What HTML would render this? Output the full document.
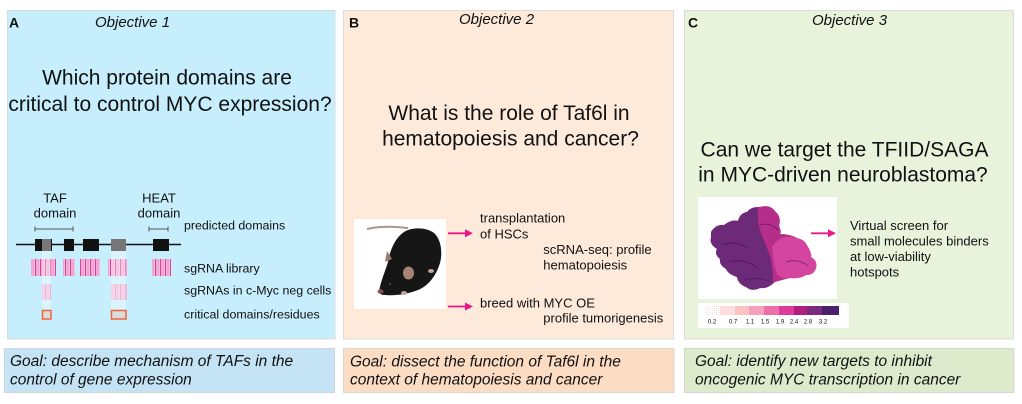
<!DOCTYPE html>
<html><head><meta charset="utf-8"><style>
html,body{margin:0;padding:0;background:#fff;}
svg{display:block;}
text{font-family:"Liberation Sans",Arial,sans-serif;fill:#111;}
.it{font-style:italic;}
</style></head><body>
<svg width="1022" height="404" viewBox="0 0 1022 404" xmlns="http://www.w3.org/2000/svg">
<defs>
<pattern id="sg1" patternUnits="userSpaceOnUse" width="5" height="20" x="0" y="0">
<rect x="0" y="0" width="1.2" height="20" fill="#df3f9c"/>
<rect x="2.5" y="0" width="1.2" height="20" fill="#ee94c8"/>
</pattern>
<pattern id="sg2" patternUnits="userSpaceOnUse" width="5" height="20" x="0" y="0">
<rect x="0" y="0" width="1.2" height="20" fill="#e08dc2"/>
<rect x="2.5" y="0" width="1.2" height="20" fill="#ecb2d6"/>
</pattern>
<pattern id="dots" patternUnits="userSpaceOnUse" width="2" height="2">
<rect x="0" y="0" width="1" height="1" fill="#f8dde0"/>
</pattern>
</defs>

<!-- Panels -->
<rect x="7.5" y="10.5" width="327.5" height="328.5" fill="#c7eefc" stroke="#d9dcdd" stroke-width="1"/>
<rect x="343.5" y="10.5" width="330" height="328.5" fill="#feeadb" stroke="#dddcd9" stroke-width="1"/>
<rect x="684.5" y="10.5" width="329" height="328.5" fill="#e9f3dc" stroke="#dcddd9" stroke-width="1"/>

<!-- Goal boxes -->
<rect x="4.5" y="348.5" width="330" height="44" fill="#c4e4f5" stroke="#cfd6da" stroke-width="1"/>
<rect x="343.5" y="348.5" width="330.5" height="44" fill="#fcdcc2" stroke="#dad5d0" stroke-width="1"/>
<rect x="684.5" y="348.5" width="329.5" height="44" fill="#ddebcc" stroke="#d3d8cf" stroke-width="1"/>

<!-- Headers -->
<text x="9" y="27.3" font-size="14" font-weight="bold">A</text>
<text x="95" y="27" font-size="15" class="it">Objective 1</text>
<text x="349" y="27.3" font-size="14" font-weight="bold">B</text>
<text x="459" y="24" font-size="15" class="it">Objective 2</text>
<text x="688" y="27.3" font-size="14" font-weight="bold">C</text>
<text x="812" y="25" font-size="15" class="it">Objective 3</text>

<!-- Titles -->
<text x="167" y="84.5" font-size="21" text-anchor="middle">Which protein domains are</text>
<text x="170" y="111" font-size="21" text-anchor="middle">critical to control MYC expression?</text>
<text x="509" y="120" font-size="21" text-anchor="middle">What is the role of Taf6l in</text>
<text x="510.5" y="145.5" font-size="21" text-anchor="middle">hematopoiesis and cancer?</text>
<text x="844.5" y="156.7" font-size="21" text-anchor="middle">Can we target the TFIID/SAGA</text>
<text x="843" y="181.7" font-size="21" text-anchor="middle">in MYC-driven neuroblastoma?</text>

<!-- Goals -->
<text x="10" y="366" font-size="15.5" class="it">Goal: describe mechanism of TAFs in the</text>
<text x="10" y="384.5" font-size="15.5" class="it">control of gene expression</text>
<text x="350" y="366.5" font-size="15.5" class="it">Goal: dissect the function of Taf6l in the</text>
<text x="350" y="384.5" font-size="15.5" class="it">context of hematopoiesis and cancer</text>
<text x="695" y="366" font-size="15.5" class="it">Goal: identify new targets to inhibit</text>
<text x="695" y="384.5" font-size="15.5" class="it">oncogenic MYC transcription in cancer</text>

<!-- Panel A diagram -->
<text x="55" y="202.3" font-size="13" text-anchor="middle">TAF</text>
<text x="55" y="217.3" font-size="13" text-anchor="middle">domain</text>
<text x="159" y="202.3" font-size="13" text-anchor="middle">HEAT</text>
<text x="159" y="217.3" font-size="13" text-anchor="middle">domain</text>
<g stroke="#555" stroke-width="1" fill="none">
<line x1="35" y1="229" x2="73" y2="229"/><line x1="35" y1="226.5" x2="35" y2="231.5"/><line x1="73" y1="226.5" x2="73" y2="231.5"/>
<line x1="149" y1="229" x2="168" y2="229"/><line x1="149" y1="226.5" x2="149" y2="231.5"/><line x1="168" y1="226.5" x2="168" y2="231.5"/>
</g>
<text x="184" y="229.3" font-size="12.4">predicted domains</text>
<line x1="16" y1="244.5" x2="181" y2="244.5" stroke="#111" stroke-width="1.4"/>
<rect x="35" y="239" width="17" height="12" fill="#111"/>
<rect x="42" y="239" width="9" height="12" fill="#777"/>
<rect x="64" y="239" width="10" height="12" fill="#111"/>
<rect x="83" y="239" width="16" height="12" fill="#111"/>
<rect x="111" y="239" width="15" height="12" fill="#777"/>
<rect x="153" y="239" width="16" height="12" fill="#111"/>

<g>
<rect x="31" y="259" width="25" height="17" fill="#f3c3e0"/>
<rect x="63" y="259" width="12" height="17" fill="#f3c3e0"/>
<rect x="80" y="259" width="20" height="17" fill="#f3c3e0"/>
<rect x="108" y="259" width="19" height="17" fill="#f3c3e0"/>
<rect x="152" y="259" width="19" height="17" fill="#f3c3e0"/>
<rect x="31" y="259" width="25" height="17" fill="url(#sg1)"/>
<rect x="63" y="259" width="12" height="17" fill="url(#sg1)"/>
<rect x="80" y="259" width="20" height="17" fill="url(#sg1)"/>
<rect x="108" y="259" width="19" height="17" fill="url(#sg1)"/>
<rect x="152" y="259" width="19" height="17" fill="url(#sg1)"/>
<rect x="42" y="284" width="9" height="16" fill="#eec6df"/>
<rect x="111" y="284" width="16" height="16" fill="#eec6df"/>
<rect x="42" y="284" width="9" height="16" fill="url(#sg2)"/>
<rect x="111" y="284" width="16" height="16" fill="url(#sg2)"/>
</g>

<rect x="42" y="251" width="9" height="69" fill="#ffffff" fill-opacity="0.35"/>
<rect x="111" y="251" width="15" height="69" fill="#ffffff" fill-opacity="0.35"/>

<rect x="42.5" y="310.5" width="8.5" height="8.5" fill="#dcdcdc" stroke="#f0643c" stroke-width="1.5"/>
<rect x="111.5" y="310.5" width="14.5" height="8.5" fill="#dcdcdc" stroke="#f0643c" stroke-width="1.5"/>

<text x="184" y="272.3" font-size="12.4">sgRNA library</text>
<text x="184" y="294.3" font-size="12.4">sgRNAs in c-Myc neg cells</text>
<text x="184" y="318.3" font-size="12.4">critical domains/residues</text>

<!-- Panel B mouse -->
<rect x="354" y="219" width="92" height="90" fill="#ffffff"/>
<path d="M367,229 Q385,225 408,228" stroke="#a8968c" stroke-width="2" fill="none"/>
<path d="M379,292 C380,283 385,272 388,262 C390,250 395,238 404,232 C412,227 426,227 434,233 C442,240 443,256 439,266 C435,277 428,286 418,290 C408,294 395,296 386,295 C382,295 379,294 379,292 Z" fill="#161616"/>
<ellipse cx="380.5" cy="291.5" rx="3" ry="2.2" fill="#8a5050"/>
<ellipse cx="408.5" cy="273" rx="5.5" ry="6.5" fill="#a88272"/>
<path d="M385,262 L387,251 L392,259 Z" fill="#9a7a6a"/>
<ellipse cx="431" cy="271" rx="3" ry="2" fill="#c9a29a"/>
<ellipse cx="404" cy="293" rx="3" ry="2" fill="#c9a29a"/>
<circle cx="390" cy="284" r="1" fill="#555"/>

<!-- Arrows B -->
<g fill="#e8178a" stroke="#e8178a">
<line x1="448" y1="233.3" x2="466" y2="233.3" stroke-width="1.8"/>
<path d="M465,229.3 L473,233.3 L465,237.3 Z" stroke="none"/>
<line x1="448" y1="306.5" x2="466" y2="306.5" stroke-width="1.8"/>
<path d="M465,302.5 L473,306.5 L465,310.5 Z" stroke="none"/>
</g>
<text x="480" y="222.7" font-size="13">transplantation</text>
<text x="480" y="238.3" font-size="13">of HSCs</text>
<text x="543.3" y="254" font-size="13">scRNA-seq: profile</text>
<text x="543.3" y="269.3" font-size="13">hematopoiesis</text>
<text x="480" y="307.7" font-size="13">breed with MYC OE</text>
<text x="543.3" y="322.7" font-size="13">profile tumorigenesis</text>

<!-- Panel C protein -->
<rect x="698" y="197" width="139" height="102" fill="#ffffff"/>
<path d="M711,232 Q716,224 724,225 Q732,219 738,221 Q740,213 747,212 Q752,206 760,207 Q770,204 775,211 Q782,217 779,226 Q782,232 780,234 Q790,234 797,238 Q806,240 806,246 Q812,252 811,257 Q818,261 816,268 Q814,275 806,275 Q800,279 790,278 Q782,280 775,282 Q768,289 760,288 Q752,292 746,287 Q738,284 737,277 Q728,274 726,269 Q719,265 720,259 Q714,254 717,249 Q709,244 711,238 Z" fill="#b52f8a"/>
<path d="M711,232 Q716,224 724,225 Q732,219 738,221 Q740,213 747,212 Q752,206 758,208 Q757,222 761,233 Q766,245 770,256 Q773,268 773,283 Q768,289 760,288 Q752,292 746,287 Q738,284 737,277 Q728,274 726,269 Q719,265 720,259 Q714,254 717,249 Q709,244 711,238 Z" fill="#6c2a78"/>
<path d="M772,247 Q778,238 786,237 Q797,236 805,242 Q812,252 811,257 Q818,261 816,268 Q814,275 806,275 Q800,279 790,278 Q782,280 777,274 Q773,262 772,247 Z" fill="#d445a0"/>
<g stroke="#3e1048" stroke-width="1" fill="none" opacity="0.55">
<path d="M722,245 Q735,240 748,248"/>
<path d="M730,262 Q745,258 758,268"/>
<path d="M745,280 Q758,276 770,282"/>
<path d="M760,225 Q770,222 778,230"/>
<path d="M786,262 Q798,258 808,266"/>
</g>

<!-- colorbar -->
<rect x="698" y="303" width="151" height="25" fill="#ffffff"/>
<rect x="705" y="306" width="15" height="9" fill="url(#dots)"/>
<rect x="720" y="306" width="15" height="9" fill="#fddde0"/>
<rect x="735" y="306" width="14" height="9" fill="#fbc4c0"/>
<rect x="749" y="306" width="15" height="9" fill="#f5a0bc"/>
<rect x="764" y="306" width="15" height="9" fill="#ee6fa8"/>
<rect x="779" y="306" width="15" height="9" fill="#dd3a9c"/>
<rect x="794" y="306" width="13" height="9" fill="#b0217f"/>
<rect x="807" y="306" width="15" height="9" fill="#7c2a7e"/>
<rect x="822" y="306" width="17" height="9" fill="#4b1f6e"/>
<g font-size="6" fill="#666" text-anchor="middle">
<text x="712" y="323.5" fill="#666">0.2</text>
<text x="733" y="323.5" fill="#666">0.7</text>
<text x="750" y="323.5" fill="#666">1.1</text>
<text x="765" y="323.5" fill="#666">1.5</text>
<text x="780" y="323.5" fill="#666">1.9</text>
<text x="794" y="323.5" fill="#666">2.4</text>
<text x="808" y="323.5" fill="#666">2.8</text>
<text x="823" y="323.5" fill="#666">3.2</text>
</g>

<g fill="#e8178a" stroke="#e8178a">
<line x1="811" y1="233.3" x2="829" y2="233.3" stroke-width="1.8"/>
<path d="M828,229.3 L836,233.3 L828,237.3 Z" stroke="none"/>
</g>
<text x="850" y="230" font-size="13">Virtual screen for</text>
<text x="850" y="245.7" font-size="13">small molecules binders</text>
<text x="850" y="261" font-size="13">at low-viability</text>
<text x="850" y="276.7" font-size="13">hotspots</text>
</svg>
</body></html>
